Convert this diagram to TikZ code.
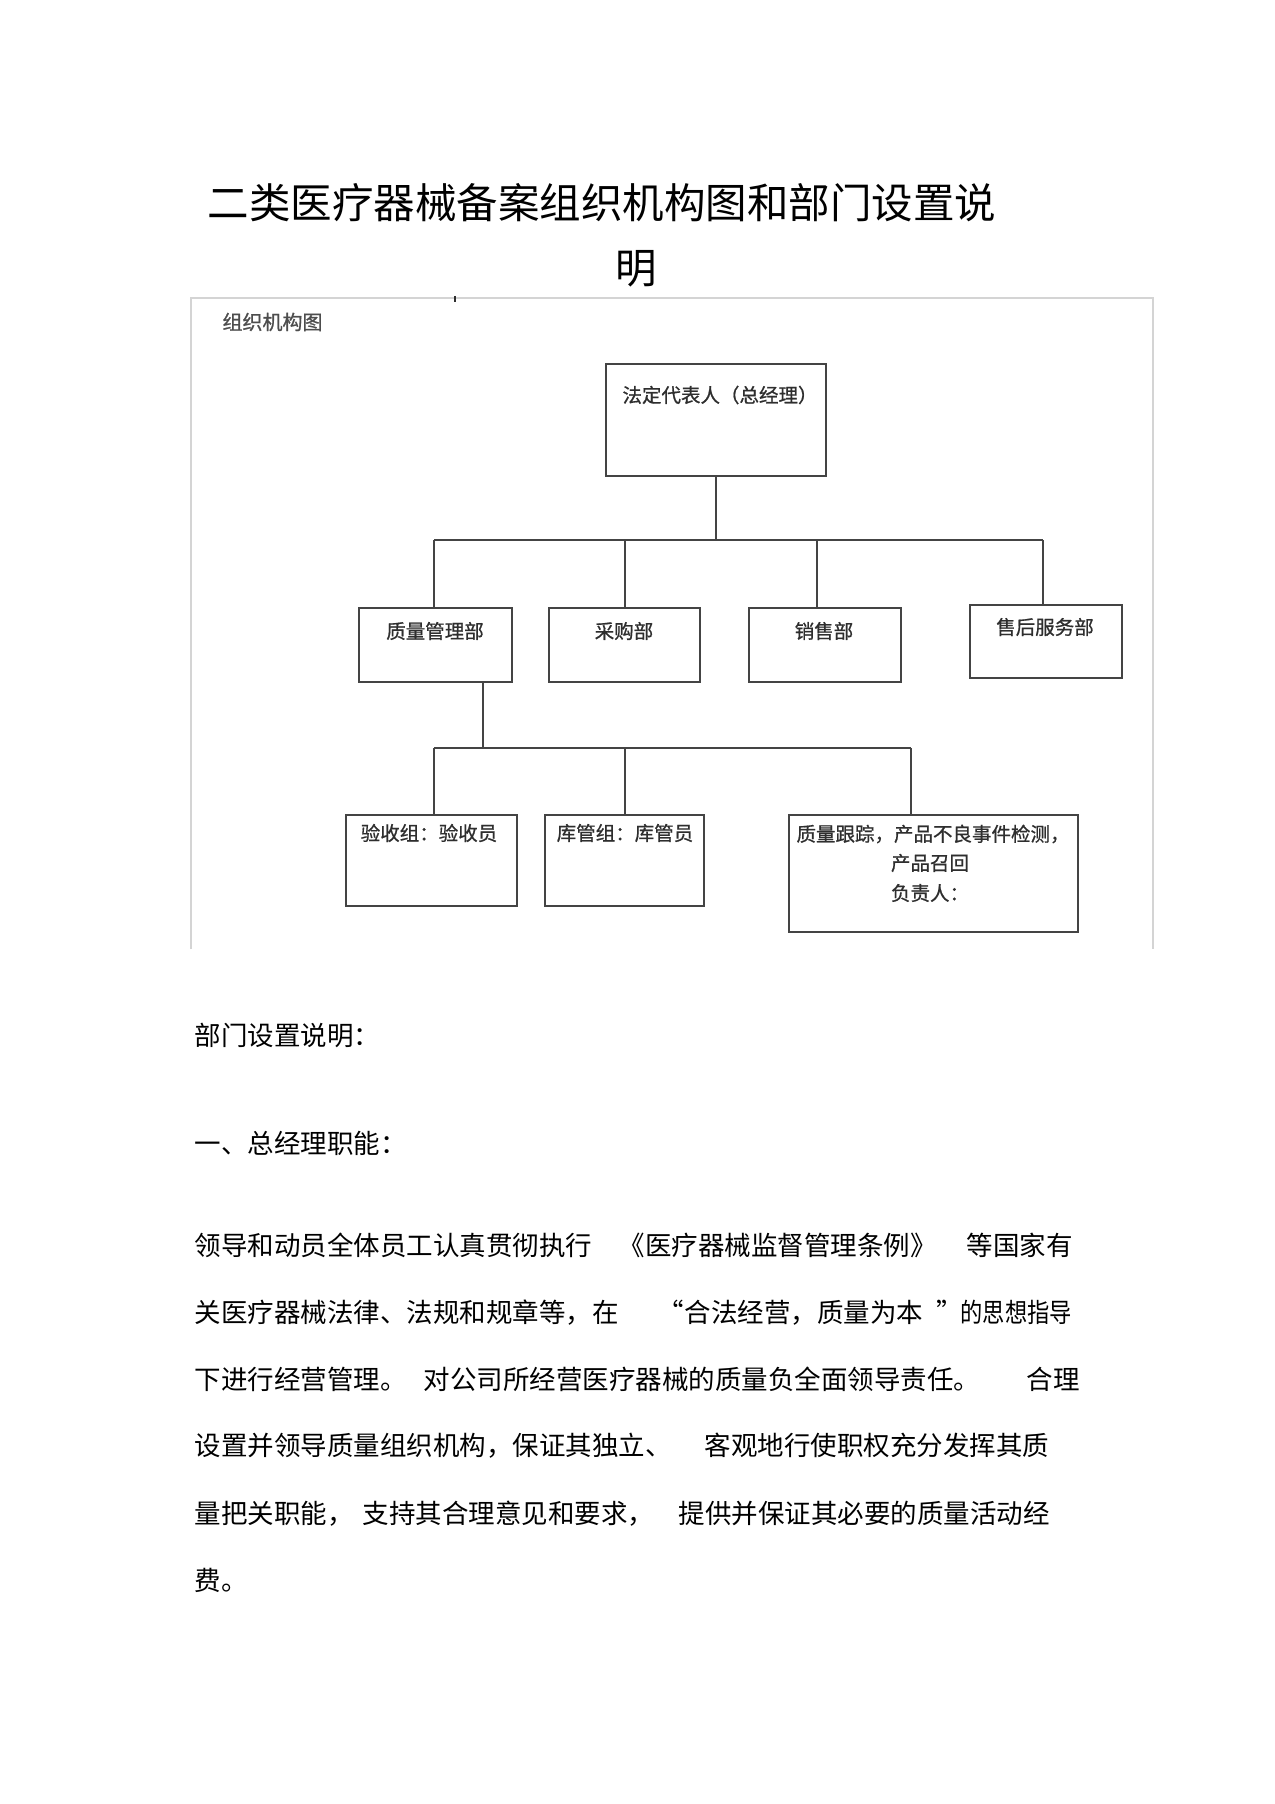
\documentclass[tikz,border=0pt]{standalone}
\usepackage{graphicx}
\usepackage{fontspec}
\newfontfamily\cjk{Noto Sans CJK SC}
\newfontfamily\cjkd[FakeBold=0.8]{Noto Sans CJK SC}
\definecolor{ink}{HTML}{2E2E2E}
\definecolor{boxc}{HTML}{444444}
\definecolor{framec}{HTML}{D4D4D4}
\begin{document}
\begin{tikzpicture}[x=0.4pt,y=-0.4pt,
  body/.style={font=\cjk\fontsize{10.6pt}{10.6pt}\selectfont, inner sep=0pt, text height=9.33pt, text depth=1.27pt, anchor=west},
  bodyq/.style={font=\cjk\fontsize{10.6pt}{10.6pt}\selectfont, inner sep=0pt, text height=9.33pt, text depth=1.27pt},
  ttl/.style={font=\cjk\fontsize{16.6pt}{16.6pt}\selectfont, inner sep=0pt, text height=14.6pt, text depth=2pt},
  dtext/.style={font=\cjkd\fontsize{7.8pt}{9pt}\selectfont, text=ink, inner sep=0pt, align=center},
  orgbox/.style={draw=boxc, line width=0.8pt, inner sep=0pt},
  conn/.style={draw=boxc, line width=0.8pt},
  frameline/.style={draw=framec, line width=0.6pt}]
\useasboundingbox[fill=white] (0,0) rectangle (1274,1804);

% title
\node[ttl, anchor=west] (title1) at (207,203) {二类医疗器械备案组织机构图和部门设置说};
\node[ttl] (title2) at (636,268) {明};

% frame
\draw[frameline] (191,949) -- (191,298) -- (1153,298) -- (1153,949);
\draw[draw=ink, line width=1pt] (455,296) -- (455,302);
\node[dtext, anchor=west, font=\cjkd\fontsize{8pt}{9pt}\selectfont, text=ink!85] (ctitle) at (222,322) {组织机构图};

% boxes
\node[orgbox, minimum width=88pt, minimum height=44.8pt] (gm) at (716,420) {};
\node[orgbox, minimum width=61.2pt, minimum height=29.6pt] (qm) at (435.5,645) {};
\node[orgbox, minimum width=60.4pt, minimum height=29.6pt] (cg) at (624.5,645) {};
\node[orgbox, minimum width=60.8pt, minimum height=29.6pt] (xs) at (825,645) {};
\node[orgbox, minimum width=60.8pt, minimum height=29.2pt] (sh) at (1046,641.5) {};
\node[orgbox, minimum width=68.4pt, minimum height=36.4pt] (ys) at (431.5,860.5) {};
\node[orgbox, minimum width=63.6pt, minimum height=36.4pt] (kg) at (624.5,860.5) {};
\node[orgbox, minimum width=115.6pt, minimum height=46.8pt] (zl) at (933.5,873.5) {};

% box texts
\node[dtext] (gmt) at (720,395) {法定代表人（总经理）};
\node[dtext] (qmt) at (435,631) {质量管理部};
\node[dtext] (cgt) at (624,631) {采购部};
\node[dtext] (xst) at (824,631) {销售部};
\node[dtext] (sht) at (1045,627) {售后服务部};
\node[dtext] (yst) at (429,833) {验收组：验收员};
\node[dtext] (kgt) at (625,833) {库管组：库管员};
\node[dtext] (zlt1) at (933,834) {质量跟踪，产品不良事件检测，};
\node[dtext] (zlt2) at (930,863) {产品召回};
\node[dtext] (zlt3) at (930,893) {负责人：};

% connectors level 1
\coordinate (t1) at (434,540);
\coordinate (t2) at (625,540);
\coordinate (t3) at (817,540);
\coordinate (t4) at (1043,540);
\draw[conn] (gm.south) -- (gm.south |- t1);
\draw[conn] (t1) -- (t4);
\draw[conn] (t1) -- (t1 |- qm.north);
\draw[conn] (t2) -- (t2 |- cg.north);
\draw[conn] (t3) -- (t3 |- xs.north);
\draw[conn] (t4) -- (t4 |- sh.north);

% connectors level 2
\coordinate (qx) at (483,0);
\coordinate (u1) at (434,748);
\coordinate (u2) at (625,748);
\coordinate (u3) at (911,748);
\draw[conn] (qm.south -| qx) -- (qx |- u1);
\draw[conn] (u1) -- (u3);
\draw[conn] (u1) -- (u1 |- ys.north);
\draw[conn] (u2) -- (u2 |- kg.north);
\draw[conn] (u3) -- (u3 |- zl.north);

% section text
\node[body] (h1) at (194,1035) {部门设置说明：};
\node[body] (h2) at (194,1143) {一、总经理职能：};

\node[body] (l1a) at (194,1245) {领导和动员全体员工认真贯彻执行};
\node[body] (l1b) at (618,1245) {《医疗器械监督管理条例》};
\node[body] (l1c) at (966,1245) {等国家有};

\node[body] (l2a) at (194,1312) {关医疗器械法律、法规和规章等，在};
\node[bodyq, anchor=east] (l2q1) at (684,1312) {“};
\node[body] (l2b) at (684,1312) {合法经营，质量为本};
\node[body] (l2q2) at (936,1312) {”};
\node[body] (l2c) at (960,1312) {\scalebox{0.84}[1]{的思想指导}};

\node[body] (l3a) at (194,1379) {下进行经营管理。};
\node[body] (l3b) at (423,1379) {对公司所经营医疗器械的质量负全面领导责任。};
\node[body] (l3c) at (1026,1379) {合理};

\node[body] (l4a) at (194,1445) {设置并领导质量组织机构，保证其独立、};
\node[body] (l4b) at (704,1445) {客观地行使职权充分发挥其质};

\node[body] (l5a) at (194,1513) {量把关职能，};
\node[body] (l5b) at (362,1513) {支持其合理意见和要求，};
\node[body] (l5c) at (678,1513) {提供并保证其必要的质量活动经};

\node[body] (l6a) at (194,1580) {费。};
\end{tikzpicture}
\end{document}
